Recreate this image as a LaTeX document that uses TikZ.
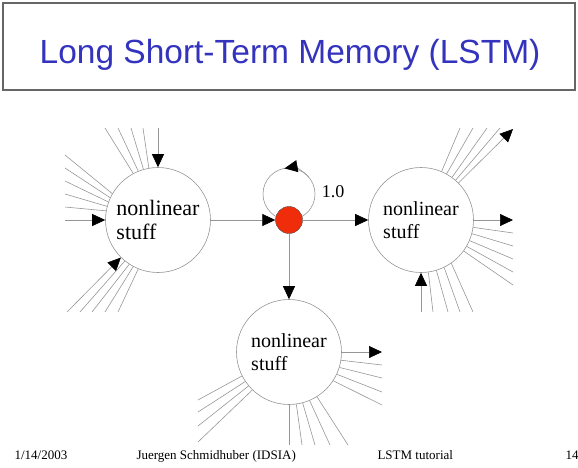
\documentclass[tikz,border=0pt]{standalone}
\usepackage{fontspec}
\setmainfont{Liberation Serif}
\newfontfamily\titlefont{Liberation Sans}
\usetikzlibrary{arrows.meta}
\definecolor{titleblue}{RGB}{51,51,190}
\definecolor{wiregray}{RGB}{150,150,150}
\definecolor{corered}{RGB}{240,45,10}
\tikzset{
  wire/.style={draw=wiregray, line width=0.6pt},
  feed/.style={wire, -{Triangle[length=13pt,width=12pt,color=black]}},
  unit/.style={circle, draw=wiregray, line width=0.6pt, fill=white, minimum size=105pt,
    inner sep=0pt, align=left, font=\fontsize{20}{23}\selectfont},
  core/.style={circle, draw=black!70, fill=corered, minimum size=27pt, inner sep=0pt},
  foot/.style={anchor=base west, font=\fontsize{13}{15}\selectfont}
}
\begin{document}
\begin{tikzpicture}[x=1pt, y=-1pt]
  \useasboundingbox (0,0) rectangle (578,467);
  % title box
  \draw[line width=1.2pt, draw=black!60] (3,3) rectangle (575,90);
  \node[anchor=base, text=titleblue, font=\titlefont\fontsize{33.5}{40}\selectfont] (title) at (290,63) {Long Short-Term Memory (LSTM)};
  % the three units
  \node[unit, font=\fontsize{22}{24}\selectfont] (lft) at (158,220) {nonlinear\\stuff};
  \node[unit] (rgt) at (421,220) {nonlinear\\stuff};
  \node[unit] (bot) at (289,352) {nonlinear\\stuff};
  % memory cell with its self loop
  \coordinate (loopc) at (289,194);
  \draw[wire] (loopc) circle[radius=26];
  \draw[feed] ([shift={(-40:26)}]loopc) arc[start angle=-40, end angle=-100, radius=26];
  \node[core] (mem) at (289,220) {};
  \node[font=\fontsize{18}{20}\selectfont] (gain) at (333,192) {1.0};
  \draw[feed] (lft) -- (mem);
  \draw[feed] (mem) -- (rgt);
  \draw[feed] (mem) -- (bot);
  % inputs of the left unit
  \coordinate (inA) at (158,128);
  \coordinate (inB) at (65,220);
  \coordinate (inC) at (67,312);
  \draw[feed] (inA) -- (lft);
  \draw[feed] (inB) -- (lft);
  \draw[feed] (inC) -- (lft);
  \foreach \a/\x in {118/105, 112/118, 106/131, 100/143}
    \draw[wire] (lft.\a) -- (\x,128);
  \foreach \a/\y in {150/155, 155/168, 160/181, 165/194, 170/207}
    \draw[wire] (lft.\a) -- (65,\y);
  \foreach \a/\x in {231/80, 237/92, 242/105, 248/118}
    \draw[wire] (lft.\a) -- (\x,312);
  % right unit
  \coordinate (outA) at (513,129);
  \coordinate (outB) at (513,220);
  \coordinate (inD) at (421,312);
  \draw[feed] (rgt) -- (outA);
  \draw[feed] (rgt) -- (outB);
  \draw[feed] (inD) -- (rgt);
  \foreach \a/\x in {67/460, 61/473, 54/487, 49/500}
    \draw[wire] (rgt.\a) -- (\x,128);
  \foreach \a/\y in {-8/233, -15/246, -23/259, -30/272, -36/285}
    \draw[wire] (rgt.\a) -- (513,\y);
  \foreach \a/\x in {-82/433, -73/448, -64/460, -55/473}
    \draw[wire] (rgt.\a) -- (\x,312);
  % bottom unit
  \coordinate (outC) at (382,352);
  \draw[feed] (bot) -- (outC);
  \draw[wire] (bot.270) -- (289,445);
  \foreach \a/\y in {-9/365, -17/378, -25/392, -33/405}
    \draw[wire] (bot.\a) -- (382,\y);
  \foreach \a/\x in {-82/302, -75/315, -67/330, -58/348}
    \draw[wire] (bot.\a) -- (\x,445);
  \foreach \a/\y in {207/400, 214/412, 220/426, 226/442}
    \draw[wire] (bot.\a) -- (198,\y);
  % footer
  \node[foot] (date) at (11,459) {1/14/2003};
  \node[foot] (author) at (133,459) {Juergen Schmidhuber (IDSIA)};
  \node[foot] (talk) at (374,459) {LSTM tutorial};
  \node[foot] (page) at (562,459) {14};
\end{tikzpicture}
\end{document}
